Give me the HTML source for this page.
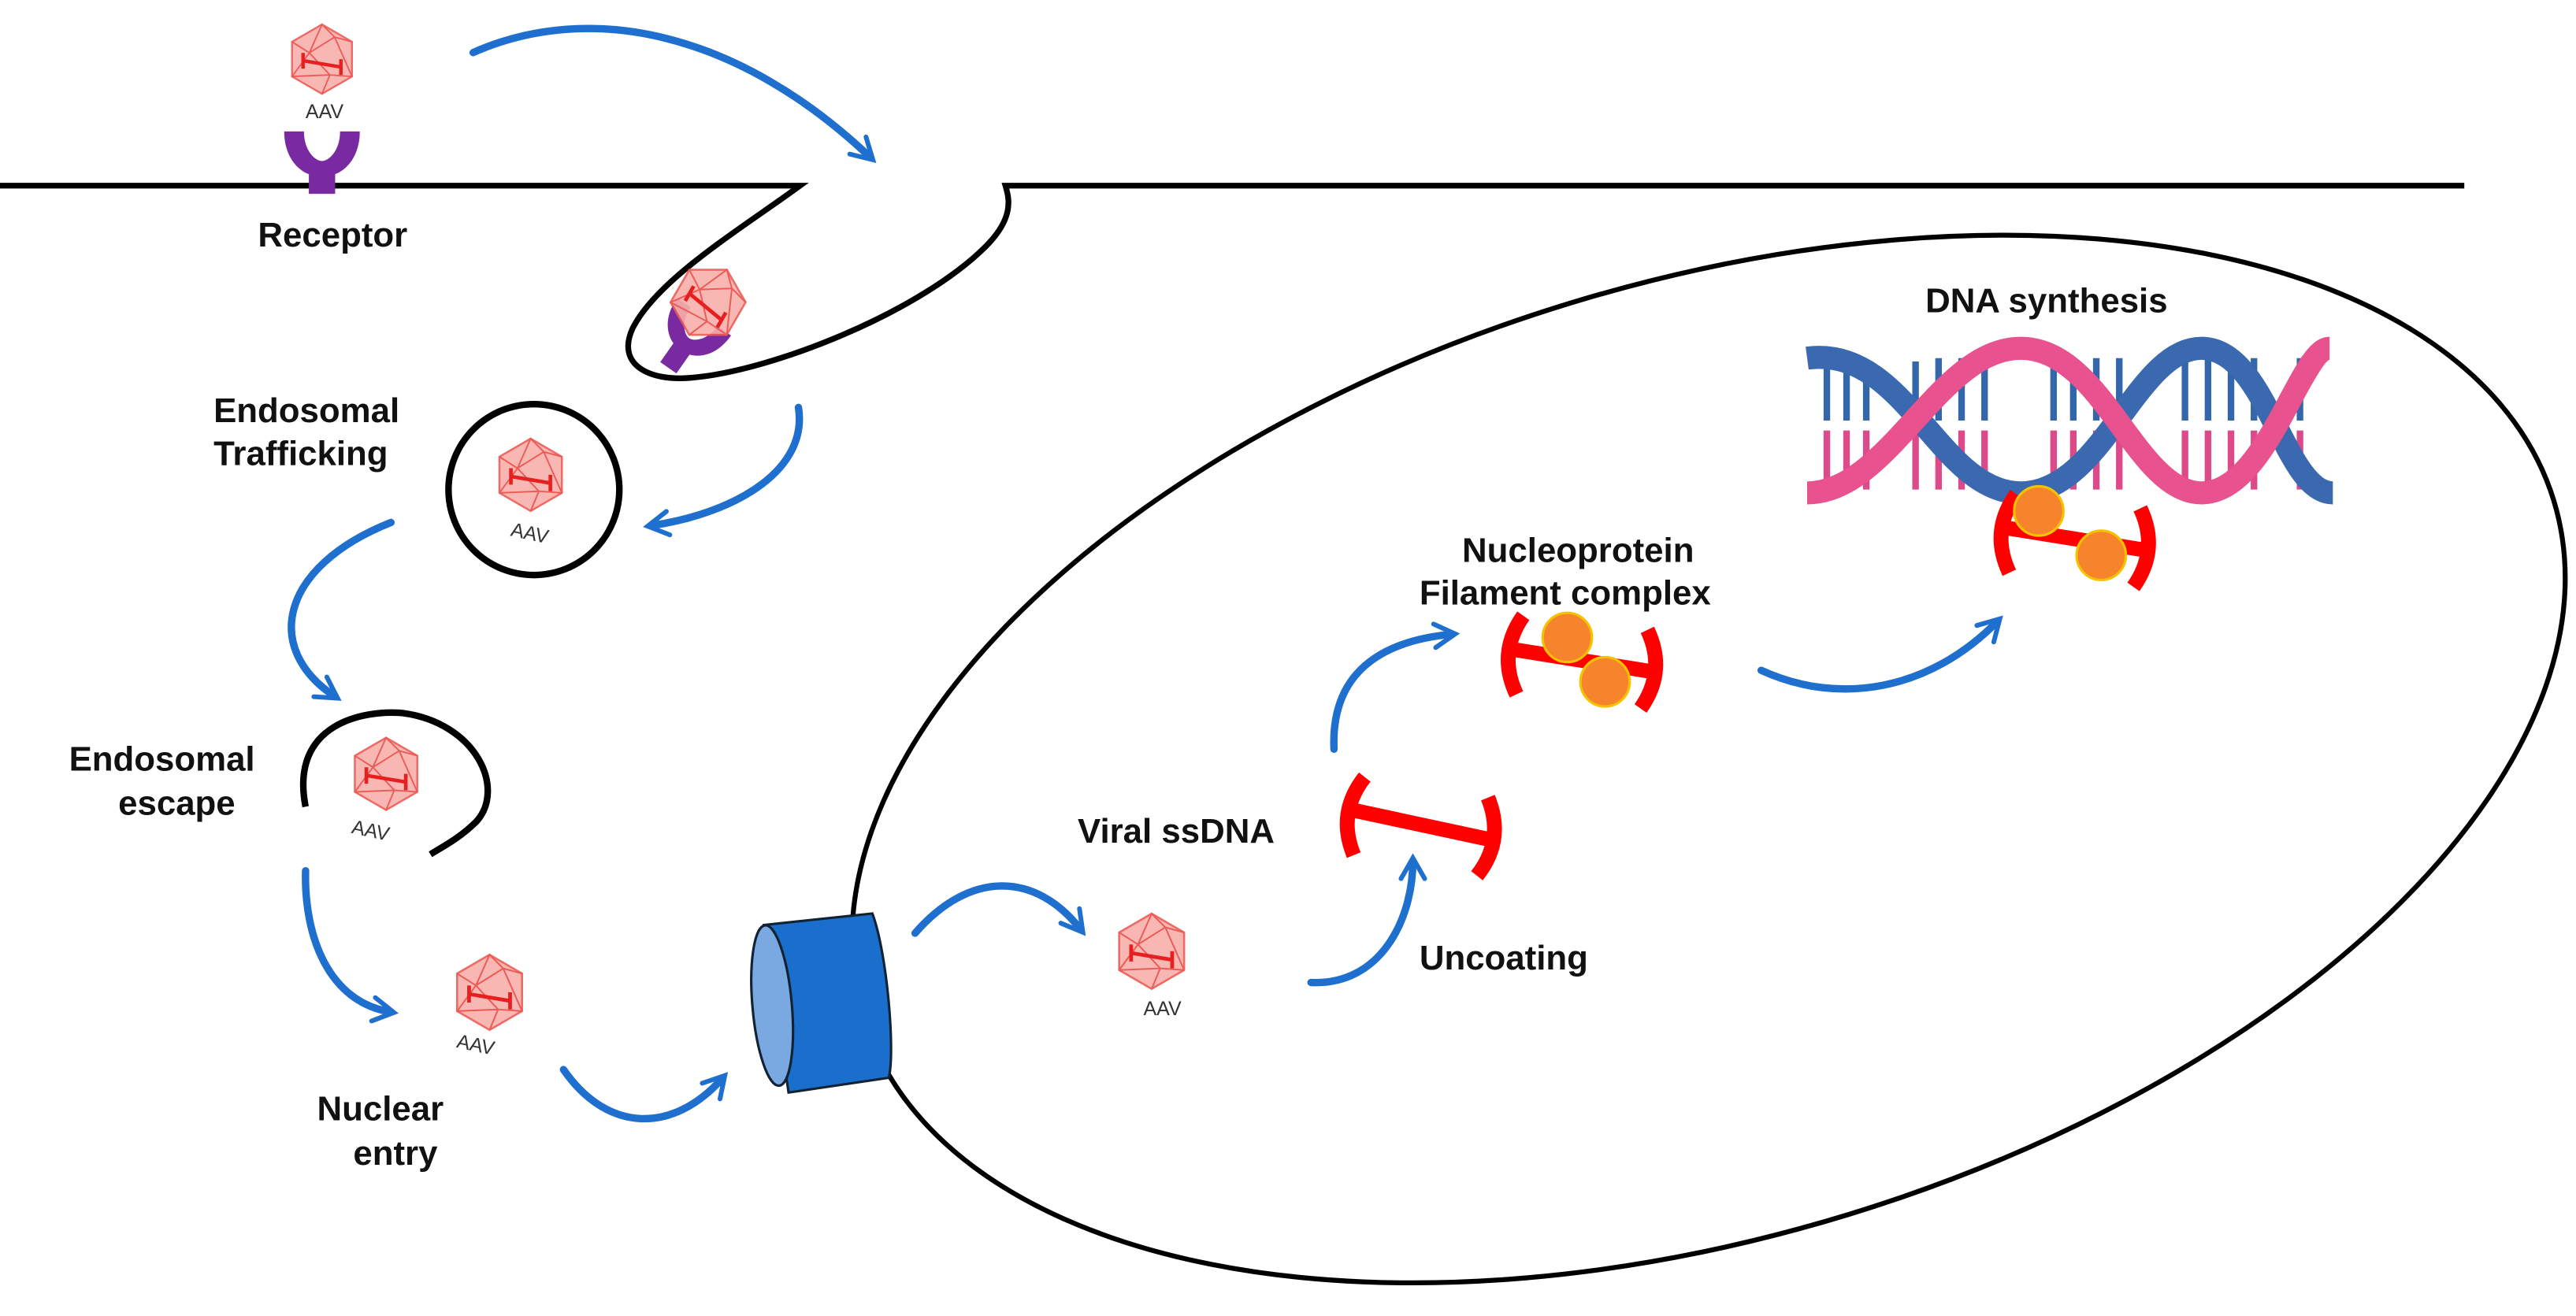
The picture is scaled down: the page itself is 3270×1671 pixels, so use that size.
<!DOCTYPE html>
<html><head><meta charset="utf-8"><style>
html,body{margin:0;padding:0;background:#fff;overflow:hidden;width:3270px;height:1671px;}
svg{display:block}
text{font-family:"Liberation Sans",sans-serif;}
.lb{font-weight:bold;font-size:21px;fill:#111;}
.aav{font-size:12px;fill:#333;}
.arr{fill:none;stroke:#1f6fcf;stroke-width:4.5;stroke-linecap:round;}
</style></head><body>
<svg width="3270" height="1671" viewBox="0 0 1568 801" preserveAspectRatio="none" xmlns="http://www.w3.org/2000/svg">
<defs>
<symbol id="v" viewBox="-25 -25 50 50" overflow="visible">
<polygon points="0,-22 19,-11 19,11 0,22 -19,11 -19,-11" fill="#f8b0aa" stroke="#ec5a55" stroke-width="1.2" opacity="0.9"/>
<path d="M0,-22 L-8,-4 L8,-14 Z M-19,-11 L-8,-4 M8,-14 L19,-11 M-8,-4 L-19,11 M-8,-4 L5,10 L19,11 M5,10 L0,22 M8,-14 L19,11 M5,10 L-19,11" fill="none" stroke="#ec5a55" stroke-width="0.9"/>
<path d="M-12,-4 v10 M12,0 v10 M-12,1 L12,5" fill="none" stroke="#e62020" stroke-width="2.2"/>
</symbol>
<marker id="ah" viewBox="0 0 10 10" refX="7" refY="5" markerWidth="4" markerHeight="4" orient="auto" markerUnits="strokeWidth">
<path d="M1,1 L8,5 L1,9" fill="none" stroke="#1f6fcf" stroke-width="1.6" stroke-linecap="round"/>
</marker>
<symbol id="ss" viewBox="-55 -30 110 60" overflow="visible">
<line x1="-42" y1="-3" x2="42" y2="3" stroke="#f00" stroke-width="9"/>
<path d="M-38,-24 Q-52,0 -38,24" fill="none" stroke="#f00" stroke-width="9"/>
<path d="M38,-22 Q52,2 38,26" fill="none" stroke="#f00" stroke-width="9"/>
</symbol>
</defs>

<path d="M0,113 L487,113 C450,140 400,170 385,200 C375,222 395,232 420,230 C470,226 560,190 600,150 C618,132 614,120 612,113 L1500,113" fill="none" stroke="#000" stroke-width="3.5"/>
<ellipse cx="1040" cy="462" rx="538" ry="290" transform="rotate(-17 1040 462)" fill="none" stroke="#000" stroke-width="3"/>

<path d="M173,80 L185,80 C185,92 192,98 196,98 C200,98 207,92 207,80 L219,80 C219,96 210,104 204,106 L204,118 L188,118 L188,106 C182,104 173,96 173,80 Z" fill="#7a2aa0"/>
<use href="#v" x="172" y="12" width="48" height="48"/>
<text x="186" y="72" class="aav">AAV</text>
<text x="157" y="150" class="lb">Receptor</text>

<g transform="rotate(35 420 205)"><path d="M400,190 L410,190 C410,200 416,206 420,206 C424,206 430,200 430,190 L440,190 C440,205 432,212 426,214 L426,228 L414,228 L414,214 C408,212 400,205 400,190 Z" fill="#7a2aa0"/></g>
<use href="#v" x="405" y="158" width="52" height="52" transform="rotate(30 431 184)"/>

<path class="arr" d="M288,32 C360,0 450,20 530,96" marker-end="url(#ah)"/>

<circle cx="325" cy="298" r="52" fill="none" stroke="#000" stroke-width="4"/>
<use href="#v" x="298" y="264" width="50" height="50"/>
<text x="311" y="328" class="aav" transform="rotate(12 320 324)">AAV</text>
<text x="130" y="257" class="lb">Endosomal</text>
<text x="130" y="283" class="lb">Trafficking</text>
<path class="arr" d="M486,248 C492,285 450,312 396,320" marker-end="url(#ah)"/>
<path class="arr" d="M238,318 C170,345 160,395 204,424" marker-end="url(#ah)"/>

<path d="M186,491 C176,440 222,432 245,434 C290,440 308,480 290,500 C280,510 270,515 262,520" fill="none" stroke="#000" stroke-width="4"/>
<use href="#v" x="210" y="446" width="50" height="50"/>
<text x="214" y="510" class="aav" transform="rotate(12 228 506)">AAV</text>
<text x="42" y="469" class="lb">Endosomal</text>
<text x="72" y="496" class="lb">escape</text>
<path class="arr" d="M186,530 C185,570 200,610 238,616" marker-end="url(#ah)"/>

<use href="#v" x="272" y="578" width="52" height="52"/>
<text x="278" y="640" class="aav" transform="rotate(12 290 636)">AAV</text>
<text x="193" y="682" class="lb">Nuclear</text>
<text x="215" y="709" class="lb">entry</text>
<path class="arr" d="M343,651 C370,690 410,690 440,656" marker-end="url(#ah)"/>

<path d="M465,563 L531,556 C540,580 545,640 541,656 L480,665 Z" fill="#1a6fcc" stroke="#123" stroke-width="1.5"/>
<ellipse cx="470" cy="612" rx="12" ry="49" transform="rotate(-5 470 612)" fill="#7aa8e0" stroke="#123" stroke-width="1.5"/>
<path class="arr" d="M557,568 C590,530 630,530 658,566" marker-end="url(#ah)"/>

<use href="#v" x="675" y="553" width="52" height="52"/>
<text x="696" y="618" class="aav">AAV</text>
<path class="arr" d="M798,598 C840,600 860,560 860,524" marker-end="url(#ah)"/>
<text x="864" y="590" class="lb">Uncoating</text>

<use href="#ss" x="810" y="472" width="110" height="60" transform="rotate(8 865 502)"/>
<text x="656" y="513" class="lb">Viral ssDNA</text>
<path class="arr" d="M812,456 C810,410 840,390 884,386" marker-end="url(#ah)"/>

<text x="890" y="342" class="lb">Nucleoprotein</text>
<text x="864" y="368" class="lb">Filament complex</text>
<use href="#ss" x="908" y="372" width="110" height="60" transform="rotate(5 963 402)"/>
<circle cx="954" cy="388" r="15" fill="#f5842c" stroke="#f6c200" stroke-width="1.5"/>
<circle cx="977" cy="415" r="15" fill="#f5842c" stroke="#f6c200" stroke-width="1.5"/>
<path class="arr" d="M1072,408 C1120,430 1175,420 1216,378" marker-end="url(#ah)"/>

<text x="1172" y="190" class="lb">DNA synthesis</text>
<g>
<g stroke-width="4">
<path d="M1112,218 v38 M1124,218 v38 M1136,220 v36 M1166,220 v36 M1180,218 v38 M1194,218 v38 M1208,218 v38 M1250,218 v38 M1262,218 v38 M1276,218 v38 M1290,218 v38 M1330,218 v38 M1344,218 v38 M1358,218 v38 M1372,218 v38 M1400,218 v38" stroke="#3366aa"/>
<path d="M1112,262 v36 M1124,262 v36 M1136,262 v36 M1166,262 v36 M1180,262 v36 M1194,262 v36 M1208,262 v36 M1250,262 v36 M1262,262 v36 M1276,262 v36 M1290,262 v36 M1330,262 v36 M1344,262 v36 M1358,262 v36 M1372,262 v36 M1400,262 v36" stroke="#dd4a8a"/>
</g>
<path d="M1100,218 C1160,210 1180,300 1230,300 C1280,300 1300,212 1340,212 C1380,212 1390,300 1420,300" fill="none" stroke="#3a69b0" stroke-width="14"/>
<path d="M1100,300 C1150,300 1180,212 1230,212 C1280,212 1300,300 1340,300 C1380,300 1400,212 1418,212" fill="none" stroke="#e8528f" stroke-width="14"/>
</g>
<use href="#ss" x="1208" y="298" width="110" height="60" transform="rotate(5 1263 328)"/>
<circle cx="1241" cy="311" r="15" fill="#f5842c" stroke="#f6c200" stroke-width="1.5"/>
<circle cx="1279" cy="338" r="15" fill="#f5842c" stroke="#f6c200" stroke-width="1.5"/>
</svg>
</body></html>
